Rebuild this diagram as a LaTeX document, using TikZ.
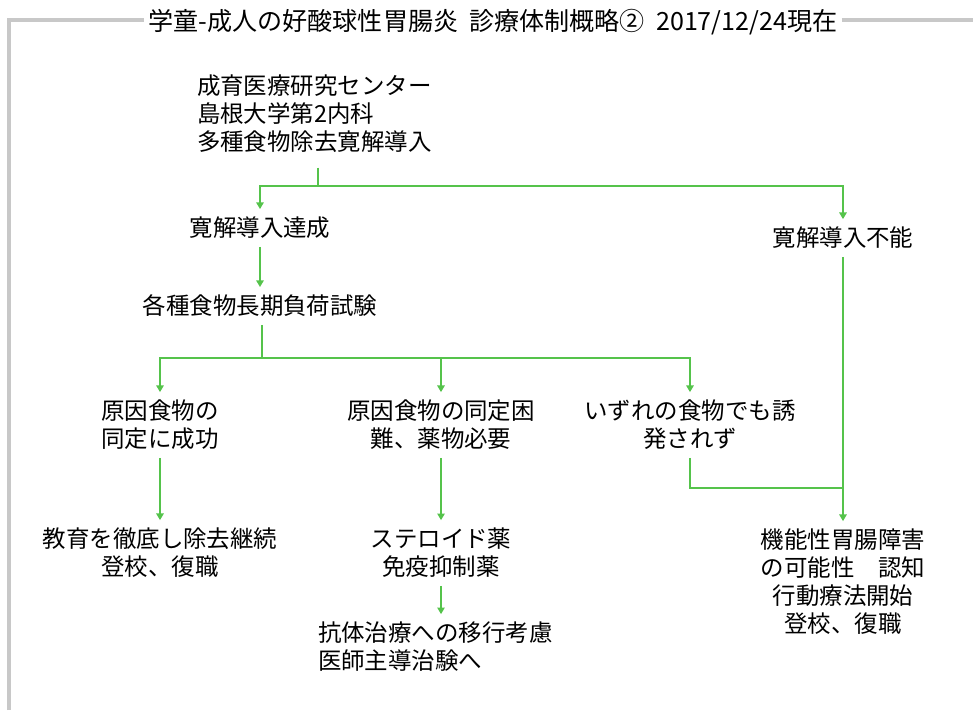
\documentclass[tikz,border=0pt]{standalone}
\usepackage{fontspec}
\setmainfont{Noto Sans CJK JP}
\usetikzlibrary{arrows.meta}
\definecolor{lgreen}{RGB}{85,195,75}
\definecolor{framegray}{RGB}{200,200,200}
\begin{document}
\begin{tikzpicture}[x=0.75pt,y=-0.75pt,
  txt/.style={inner sep=0pt, outer sep=6pt, font=\fontsize{17.6}{21}\selectfont, align=center, text=black},
  ln/.style={draw=lgreen, line width=1.5pt},
  arr/.style={ln, -{Triangle[width=5.5pt,length=5pt]}},
  frame/.style={draw=framegray, line width=2.6pt}]
\useasboundingbox (0,0) rectangle (973,710);
% title and frame
\node[inner sep=3pt, font=\fontsize{18.8}{22}\selectfont] (title) at (493,22) {学童-成人の好酸球性胃腸炎\ \ 診療体制概略②\ \ 2017/12/24現在};
\draw[frame] (9,710) -- (9,20) -- (title.west |- 0,20);
\draw[frame] (title.east |- 0,20) -- (973,20);
% nodes
\node[txt, align=left, anchor=west] (top) at (189,114) {成育医療研究センター\\島根大学第2内科\\多種食物除去寛解導入};
\node[txt] (tasei) at (260,228) {寛解導入達成};
\node[txt] (funo) at (843,238) {寛解導入不能};
\node[txt] (test) at (260,306) {各種食物長期負荷試験};
\node[txt] (seiko) at (160,425) {原因食物の\\同定に成功};
\node[txt] (konnan) at (441,425) {原因食物の同定困\\難、薬物必要};
\node[txt] (izure) at (690,425) {いずれの食物でも誘\\発されず};
\node[txt] (edu) at (160,553) {教育を徹底し除去継続\\登校、復職};
\node[txt] (ster) at (441,553) {ステロイド薬\\免疫抑制薬};
\node[txt] (kino) at (843,582) {機能性胃腸障害\\の可能性　認知\\行動療法開始\\登校、復職};
\node[txt, align=left, anchor=west] (anti) at (310,647) {抗体治療への移行考慮\\医師主導治験へ};
% junctions
\coordinate (j1) at (318,186);
\coordinate (j2) at (262,358);
\coordinate (j3) at (843,488);
% connectors
\draw[ln, shorten <=5pt] (top.south -| j1) -- (j1);
\draw[arr] (j1) -| (tasei.north);
\draw[arr] (j1) -| (funo.north);
\draw[arr] (tasei.south) -- (test.north);
\draw[ln] (test.south -| j2) -- (j2);
\draw[arr] (j2) -| (seiko.north);
\draw[arr] (j2) -| (konnan.north);
\draw[arr] (j2) -| (izure.north);
\draw[arr] (seiko.south) -- (edu.north);
\draw[arr] (konnan.south) -- (ster.north);
\draw[arr] (ster.south) -- (ster.south |- anti.north);
\draw[arr] (funo.south) -- (kino.north);
\draw[ln] (izure.south) |- (j3);
\end{tikzpicture}
\end{document}
